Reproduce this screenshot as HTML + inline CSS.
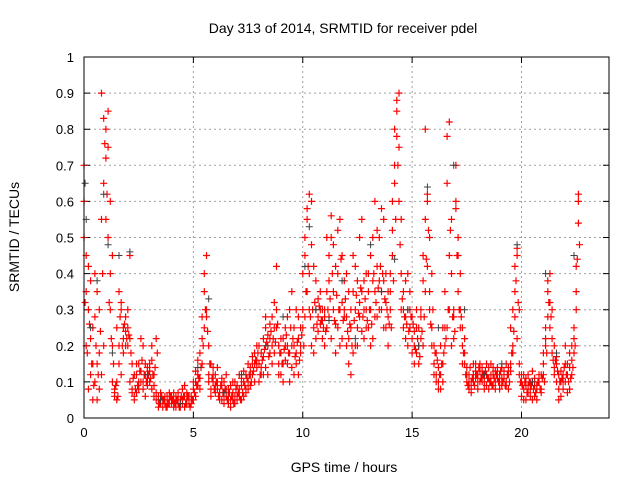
<!DOCTYPE html>
<html><head><meta charset="utf-8"><style>
body{margin:0;background:#fff}
svg{display:block;font-family:"Liberation Sans",sans-serif}
</style></head><body>
<svg id="chart" width="640" height="480">
<text x="343" y="33" font-size="14" text-anchor="middle" fill="#000">Day 313 of 2014, SRMTID for receiver pdel</text>
<text x="344" y="472" font-size="14" text-anchor="middle">GPS time / hours</text>
<text transform="translate(19,237) rotate(-90)" font-size="14" text-anchor="middle">SRMTID / TECUs</text>
<g id="grid"></g>
<g id="ticks"></g>
<g id="marks"></g>
<rect x="84" y="57" width="525" height="361" fill="none" stroke="#000" stroke-width="1"/>
</svg>
<script>
const xTicks=[0,5,10,15,20];
const yTicks=[0,0.1,0.2,0.3,0.4,0.5,0.6,0.7,0.8,0.9,1];
const yTickLabels=["0","0.1","0.2","0.3","0.4","0.5","0.6","0.7","0.8","0.9","1"];
const sampleStep=0.1;
const redA=[.70,.45,.30,.12,.25,.10,.35,.08,.55,.83, .80,.75,.60,.45,.08,.10,.35,.30,.25,.28, .25,.22,.08,.05,.12,.15,.10,.20,.12,.14, .15,.08,.12,.22,.05,.04,.04,.05,.06,.04, .04,.05,.03,.05,.04,.08,.06,.05,.04,.06, .10,.06,.12,.08,.15,.25,.45,.20,.15,.10, .12,.08,.06,.05,.10,.08,.06,.05,.07,.04, .06,.08,.05,.10,.12,.08,.12,.15,.18,.14, .15,.18,.22,.25,.20,.18,.28,.25,.30,.20, .18,.22,.25,.15,.30,.20,.12,.18,.22,.25, .30,.45,.55,.40,.60,.25,.30,.28,.35,.22, .28,.35,.45,.50,.30,.42,.25,.55,.32,.38, .28,.15,.12,.35,.30,.25,.50,.35,.22,.40, .35,.30,.50,.60,.42,.38,.30,.55,.40,.20, .30,.45,.70,.85,.90,.55,.35,.28,.40,.25, .22,.20,.18,.25,.30,.20,.35,.60,.50,.40, .15,.12,.10,.08,.15,.20,.25,.30,.40,.30, .70,.50,.40,.20,.15,.12,.10,.08,.12,.15, .12,.15,.10,.08,.12,.14,.10,.09,.13,.11, .10,.14,.12,.10,.08,.13,.20,.35,.45,.30, .10,.08,.05,.12,.08,.10,.06,.09,.11,.08, .15,.25,.35,.40,.30,.20,.15,.12,.10,.08, .15,.12,.18,.20,.25,.30,.60];
const redB=[.60,.20,.08,.38,.15,.28,.05,.18,.12,.20, .55,.85,.40,.20,.06,.05,.15,.12,.22,.24, .20,.10,.15,.06,.07,.10,.13,.08,.15,.09, .10,.20,.06,.07,.03,.05,.03,.04,.03,.05, .06,.03,.04,.07,.05,.04,.03,.07,.05,.04, .05,.13,.09,.18,.22,.40,.28,.12,.08,.12, .07,.10,.05,.09,.06,.12,.04,.09,.05,.10, .05,.12,.09,.06,.08,.10,.14,.17,.10,.20, .10,.12,.17,.14,.23,.26,.15,.32,.42,.15, .12,.15,.20,.28,.10,.35,.25,.15,.28,.18, .25,.50,.35,.62,.20,.42,.22,.33,.26,.30, .20,.25,.38,.22,.48,.18,.40,.30,.22,.28, .40,.22,.30,.45,.20,.38,.28,.55,.30,.25, .25,.45,.22,.35,.28,.50,.35,.25,.32,.28, .40,.60,.80,.88,.75,.40,.30,.22,.30,.35, .28,.15,.25,.20,.28,.45,.80,.62,.30,.25, .20,.10,.14,.12,.25,.35,.65,.45,.20,.28, .60,.45,.30,.25,.18,.10,.12,.07,.10,.13, .08,.10,.14,.12,.09,.11,.15,.12,.10,.14, .12,.09,.11,.15,.12,.25,.30,.42,.22,.15, .06,.12,.09,.07,.10,.05,.11,.08,.12,.07, .12,.20,.28,.32,.18,.12,.10,.08,.06,.12, .10,.15,.08,.12,.22,.35,.62];
const redC=[.50,.35,.42,.22,.05,.40,.15,.30,.90,.65, .72,.50,.30,.10,.07,.25,.20,.32,.18,.20, .30,.45,.07,.12,.15,.08,.22,.10,.06,.11, .13,.16,.09,.05,.06,.07,.05,.06,.05,.07, .05,.07,.06,.04,.03,.05,.09,.04,.06,.05, .08,.10,.16,.11,.28,.35,.30,.10,.06,.14, .09,.14,.07,.11,.04,.06,.08,.03,.10,.06, .09,.06,.11,.13,.07,.15,.09,.12,.15,.16, .20,.14,.12,.28,.12,.22,.20,.18,.25,.12, .22,.10,.16,.20,.18,.14,.20,.30,.12,.20, .40,.28,.58,.30,.48,.18,.38,.24,.30,.27, .30,.50,.28,.56,.35,.26,.52,.20,.45,.30, .20,.35,.25,.18,.42,.20,.32,.24,.38,.30, .40,.20,.38,.28,.52,.30,.58,.38,.25,.35, .35,.52,.65,.78,.60,.30,.25,.38,.20,.30, .18,.24,.30,.15,.22,.38,.55,.42,.35,.20, .12,.18,.08,.20,.10,.25,.78,.82,.55,.22, .58,.35,.25,.15,.22,.14,.08,.10,.15,.11, .10,.13,.12,.10,.15,.08,.12,.14,.08,.12, .08,.11,.13,.09,.14,.15,.18,.28,.47,.12, .12,.05,.11,.09,.06,.13,.09,.05,.10,.12, .18,.22,.38,.25,.22,.14,.17,.05,.13,.10, .20,.07,.14,.16,.18,.42,.54];
const redD=[.32,.18,.26,.15,.09,.20,.12,.24,.40,.76, .62,.32,.22,.15,.09,.06,.28,.20,.26,.22, .23,.18,.11,.08,.09,.13,.16,.12,.10,.12, .11,.12,.14,.18,.04,.06,.05,.03,.04,.06, .05,.04,.05,.03,.06,.06,.04,.06,.03,.05, .07,.09,.11,.14,.20,.30,.24,.15,.11,.08, .10,.06,.09,.07,.08,.05,.07,.06,.04,.08, .07,.05,.07,.09,.11,.12,.10,.13,.16,.18, .12,.16,.19,.21,.17,.24,.22,.21,.26,.18, .15,.19,.23,.18,.25,.22,.17,.21,.16,.23, .20,.35,.42,.28,.30,.32,.26,.31,.27,.25, .24,.30,.33,.40,.27,.34,.30,.44,.27,.33, .24,.26,.20,.27,.34,.29,.36,.28,.33,.27, .30,.26,.40,.32,.36,.42,.40,.33,.30,.26, .25,.38,.55,.70,.48,.33,.28,.26,.24,.28, .26,.19,.22,.17,.24,.28,.44,.52,.26,.30, .18,.16,.12,.15,.18,.22,.30,.52,.28,.24, .45,.30,.28,.18,.12,.09,.14,.11,.09,.12, .14,.11,.12,.13,.11,.10,.09,.11,.12,.10, .13,.10,.09,.12,.10,.18,.24,.38,.32,.10, .09,.10,.07,.10,.09,.08,.07,.10,.08,.11, .10,.18,.32,.28,.16,.16,.13,.10,.11,.14, .12,.10,.11,.14,.20,.44,.48];
const grayTimes=[0.05,0.1,0.3,0.6,0.9,1.1,1.3,1.6,2.1,2.9,3.5,4.4,5.2,5.7,6.4,7.2,8.3,9.1,10.1,10.3,10.6,11.2,11.8,12.4,13.1,13.6,14.2,14.8,15.3,15.7,16.2,16.9,17.4,18.3,19.1,19.8,20.5,21.1,21.6,22.4];
const grayValues=[0.65,0.55,0.25,0.38,0.62,0.48,0.18,0.45,0.46,0.12,0.05,0.04,0.14,0.33,0.07,0.12,0.20,0.28,0.42,0.53,0.30,0.27,0.38,0.22,0.48,0.35,0.44,0.30,0.20,0.64,0.25,0.70,0.30,0.12,0.15,0.48,0.10,0.40,0.18,0.45];
const X0=84,X1=609,Y0=418,Y1=57;
const xs=t=>X0+(t/24)*(X1-X0);
const ys=v=>Y0-v*(Y0-Y1);
const NS="http://www.w3.org/2000/svg";
const grid=document.getElementById('grid'),ticks=document.getElementById('ticks'),marks=document.getElementById('marks');
function mk(tag,attrs,parent){const e=document.createElementNS(NS,tag);for(const k in attrs)e.setAttribute(k,attrs[k]);parent.appendChild(e);return e;}
let gd="",td="";
xTicks.forEach(t=>{const x=xs(t);if(t>0)gd+=`M${x} ${Y0}V${Y1}`;td+=`M${x} ${Y0}v-6M${x} ${Y1}v6`;
 const l=mk('text',{x:x,y:Y0+19,'font-size':13,'text-anchor':'middle'},ticks);l.textContent=t;
 
 });
yTicks.forEach((v,i)=>{const y=ys(v);if(v>0&&v<1)gd+=`M${X0} ${y}H${X1}`;td+=`M${X0} ${y}h6M${X1} ${y}h-6`;
 const l=mk('text',{x:X0-10,y:y+5,'font-size':13,'text-anchor':'end'},ticks);l.textContent=yTickLabels[i];
 
 });
const gp=mk('path',{d:gd,stroke:'#a0a0a0','stroke-dasharray':'2,3',fill:'none'},grid);


const tp=mk('path',{d:td,stroke:'#000',fill:'none'},ticks);


function plus(x,y){return `M${(x-3.5).toFixed(1)} ${y.toFixed(1)}h7M${x.toFixed(1)} ${(y-3.5).toFixed(1)}v7`;}
let rd="";
[redA,redB,redC].forEach(arr=>arr.forEach((v,i)=>{if(v!=null)rd+=plus(xs(i*sampleStep),ys(v));}));
redD.forEach((v,i)=>{if(v!=null)rd+=plus(xs(i*sampleStep+0.05),ys(v));});
const rp=mk('path',{d:rd,stroke:'#ff0000','stroke-width':1.2,fill:'none'},marks);


let gdp="";
grayTimes.forEach((t,i)=>{gdp+=plus(xs(t),ys(grayValues[i]));});
const gpp=mk('path',{d:gdp,stroke:'#404040','stroke-width':1,fill:'none'},marks);


</script>
</body></html>
